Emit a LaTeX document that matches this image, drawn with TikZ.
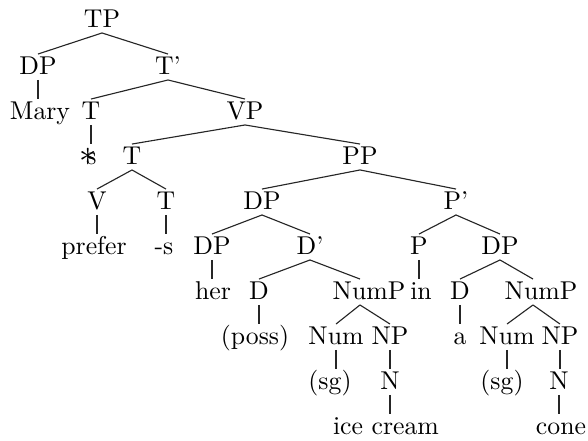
\documentclass[tikz,border=0pt]{standalone}
\usepackage{tikz}

\tikzset{
  nd/.style = {inner sep=1pt, text height=1.6ex, text depth=0.25ex, font=\fontsize{10.3}{12}\selectfont},
  br/.style = {line width=0.45pt, draw=black!85},
}

\begin{document}
\begin{tikzpicture}[x=0.4pt, y=-0.4pt]
  \useasboundingbox (0,0) rectangle (588,441);

  % top of the tree
  \node[nd] (tp)    at (102, 20) {TP};
  \node[nd] (dp1)   at ( 38, 67) {DP};
  \node[nd] (tbar)  at (168, 67) {T'};
  \node[nd] (mary)  at ( 40,112) {Mary};
  \node[nd] (t1)    at ( 91,112) {T};
  \node[nd] (vp)    at (245,112) {VP};
  \node[nd] (ts)    at ( 88,157) {\scalebox{1.4}{$\ast$}\kern-0.42em s};
  \node[nd] (t2)    at (132,157) {T};
  \node[nd] (pp)    at (360,157) {PP};

  % verb complex and PP
  \node[nd] (v)      at ( 97,202) {V};
  \node[nd] (t3)     at (166,202) {T};
  \node[nd] (dp2)    at (262,202) {DP};
  \node[nd] (pbar)   at (456,202) {P'};
  \node[nd] (prefer) at ( 94,247) {prefer};
  \node[nd] (suf)    at (164,247) {-s};
  \node[nd] (dp3)    at (212,247) {DP};
  \node[nd] (dbar)   at (310,247) {D'};
  \node[nd] (p)      at (419,247) {P};
  \node[nd] (dp4)    at (500,247) {DP};

  % lower rows
  \node[nd] (her)   at (213,292) {her};
  \node[nd] (d1)    at (259,292) {D};
  \node[nd] (nump1) at (360,292) {\hspace{7.2pt}NumP};
  \node[nd] (inw)   at (421,292) {in};
  \node[nd] (d2)    at (460,292) {D};
  \node[nd] (nump2) at (533,292) {\hspace{6.4pt}NumP};
  \node[nd] (poss)  at (255,337) {(poss)};
  \node[nd] (num1)  at (336,337) {Num};
  \node[nd] (np1)   at (390,337) {NP};
  \node[nd] (art)   at (460,337) {a};
  \node[nd] (num2)  at (507,337) {Num};
  \node[nd] (np2)   at (560,337) {NP};
  \node[nd] (sg1)   at (330,382) {(sg)};
  \node[nd] (n1)    at (390,382) {N};
  \node[nd] (sg2)   at (502,382) {(sg)};
  \node[nd] (n2)    at (559,382) {N};
  \node[nd] (ice)   at (386,427) {ice cream};
  \node[nd] (cone)  at (561,427) {cone};

  % branching edges
  \foreach \a/\b in {tp/dp1, tp/tbar, tbar/t1, tbar/vp, vp/t2, vp/pp,
                     t2/v, t2/t3, pp/dp2, pp/pbar, dp2/dp3, dp2/dbar,
                     pbar/p, pbar/dp4, dbar/d1, dbar/nump1, dp4/d2, dp4/nump2,
                     nump1/num1, nump1/np1, nump2/num2, nump2/np2}
    \draw[br] (\a.south) -- (\b.north);
  % unary edges
  \foreach \a/\b in {dp1/mary, t1/ts, v/prefer, t3/suf, dp3/her, p/inw, d1/poss,
                     d2/art, num1/sg1, np1/n1, num2/sg2, np2/n2, n1/ice, n2/cone}
    \draw[br] (\a.south) -- (\a.south |- \b.north);
\end{tikzpicture}
\end{document}
